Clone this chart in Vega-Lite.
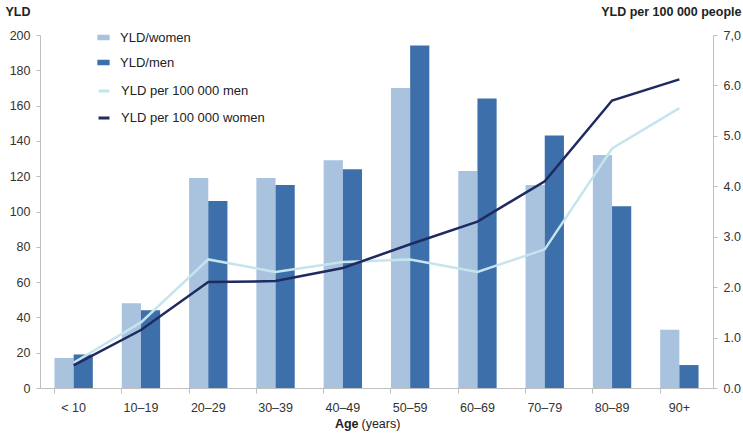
{
  "$schema": "https://vega.github.io/schema/vega-lite/v6.json",
  "autosize": "none",
  "width": 673,
  "height": 353,
  "padding": {"left": 40, "top": 35, "right": 30, "bottom": 53},
  "background": "white",
  "config": {
    "view": {"stroke": null},
    "font": "Liberation Sans",
    "axis": {"labelFont": "Liberation Sans", "titleFont": "Liberation Sans", "labelColor": "#333333", "titleColor": "#222222", "domainColor": "#bfbfbf", "tickColor": "#bfbfbf", "labelFontSize": 12.5, "grid": false, "labelOverlap": false},
    "legend": {"labelFont": "Liberation Sans"}
  },
  "datasets": {
    "bars": [
      {"age": "< 10", "series": "YLD/women", "yld": 17},
      {"age": "< 10", "series": "YLD/men", "yld": 19},
      {"age": "10–19", "series": "YLD/women", "yld": 48},
      {"age": "10–19", "series": "YLD/men", "yld": 44},
      {"age": "20–29", "series": "YLD/women", "yld": 119},
      {"age": "20–29", "series": "YLD/men", "yld": 106},
      {"age": "30–39", "series": "YLD/women", "yld": 119},
      {"age": "30–39", "series": "YLD/men", "yld": 115},
      {"age": "40–49", "series": "YLD/women", "yld": 129},
      {"age": "40–49", "series": "YLD/men", "yld": 124},
      {"age": "50–59", "series": "YLD/women", "yld": 170},
      {"age": "50–59", "series": "YLD/men", "yld": 194},
      {"age": "60–69", "series": "YLD/women", "yld": 123},
      {"age": "60–69", "series": "YLD/men", "yld": 164},
      {"age": "70–79", "series": "YLD/women", "yld": 115},
      {"age": "70–79", "series": "YLD/men", "yld": 143},
      {"age": "80–89", "series": "YLD/women", "yld": 132},
      {"age": "80–89", "series": "YLD/men", "yld": 103},
      {"age": "90+", "series": "YLD/women", "yld": 33},
      {"age": "90+", "series": "YLD/men", "yld": 13}
    ],
    "lines": [
      {"age": "< 10", "series": "YLD per 100 000 men", "rate": 0.50},
      {"age": "10–19", "series": "YLD per 100 000 men", "rate": 1.30},
      {"age": "20–29", "series": "YLD per 100 000 men", "rate": 2.55},
      {"age": "30–39", "series": "YLD per 100 000 men", "rate": 2.30},
      {"age": "40–49", "series": "YLD per 100 000 men", "rate": 2.50},
      {"age": "50–59", "series": "YLD per 100 000 men", "rate": 2.55},
      {"age": "60–69", "series": "YLD per 100 000 men", "rate": 2.30},
      {"age": "70–79", "series": "YLD per 100 000 men", "rate": 2.75},
      {"age": "80–89", "series": "YLD per 100 000 men", "rate": 4.75},
      {"age": "90+", "series": "YLD per 100 000 men", "rate": 5.55},
      {"age": "< 10", "series": "YLD per 100 000 women", "rate": 0.45},
      {"age": "10–19", "series": "YLD per 100 000 women", "rate": 1.15},
      {"age": "20–29", "series": "YLD per 100 000 women", "rate": 2.10},
      {"age": "30–39", "series": "YLD per 100 000 women", "rate": 2.12},
      {"age": "40–49", "series": "YLD per 100 000 women", "rate": 2.38},
      {"age": "50–59", "series": "YLD per 100 000 women", "rate": 2.85},
      {"age": "60–69", "series": "YLD per 100 000 women", "rate": 3.30},
      {"age": "70–79", "series": "YLD per 100 000 women", "rate": 4.10},
      {"age": "80–89", "series": "YLD per 100 000 women", "rate": 5.70},
      {"age": "90+", "series": "YLD per 100 000 women", "rate": 6.12}
    ]
  },
  "layer": [
    {
      "data": {"name": "bars"},
      "mark": {"type": "bar"},
      "encoding": {
        "x": {
          "field": "age", "type": "nominal", "sort": null,
          "scale": {"paddingInner": 0.43, "paddingOuter": 0.215},
          "axis": {"title": "Age", "titleFontWeight": "bold", "titleFontSize": 12.5, "titleAlign": "right", "titleBaseline": "top", "titleX": 318, "titleY": 29, "labelAngle": 0, "labelPadding": 8, "bandPosition": 0, "tickSize": 5}
        },
        "xOffset": {"field": "series", "type": "nominal", "sort": ["YLD/women", "YLD/men"]},
        "y": {
          "field": "yld", "type": "quantitative",
          "scale": {"domain": [0, 200]},
          "axis": {"title": "YLD", "titleAngle": 0, "titleAlign": "left", "titleBaseline": "top", "titleX": -35, "titleY": -30, "titleFontWeight": "bold", "titleFontSize": 12.5, "values": [0,20,40,60,80,100,120,140,160,180,200], "tickSize": 4, "labelPadding": 6}
        },
        "color": {
          "field": "series", "type": "nominal",
          "scale": {"domain": ["YLD/women", "YLD/men"], "range": ["#a9c3df", "#3d70aa"]},
          "legend": {"title": null, "orient": "none", "legendX": 57, "legendY": -4, "symbolType": "M-1,-0.45H1V0.45H-1Z", "symbolSize": 150, "labelFontSize": 13, "labelColor": "#222222", "rowPadding": 11, "labelOffset": 10, "symbolStrokeWidth": 0}
        }
      }
    },
    {
      "data": {"name": "lines"},
      "mark": {"type": "line", "strokeWidth": 2.5},
      "encoding": {
        "x": {
          "field": "age", "type": "nominal", "sort": null,
          "axis": {"orient": "bottom", "title": "(years)", "titleFontWeight": "normal", "titleFontSize": 12.5, "titleAlign": "left", "titleBaseline": "top", "titleX": 321, "titleY": 29, "labels": false, "ticks": false, "domain": false}
        },
        "y": {
          "field": "rate", "type": "quantitative",
          "scale": {"domain": [0, 7]},
          "axis": {"orient": "right", "title": "YLD per 100 000 people", "titleAngle": 0, "titleAlign": "right", "titleBaseline": "top", "titleX": 28, "titleY": -30, "titleFontWeight": "bold", "titleFontSize": 12.5, "values": [0,1,2,3,4,5,6,7], "labelExpr": "datum.value == 7 ? '7,0' : format(datum.value, '.1f')", "tickSize": 4, "labelPadding": 6}
        },
        "color": {
          "field": "series", "type": "nominal",
          "scale": {"domain": ["YLD per 100 000 men", "YLD per 100 000 women"], "range": ["#c5e5ee", "#1f2a60"]},
          "legend": {"title": null, "orient": "none", "legendX": 57, "legendY": 49, "symbolType": "stroke", "symbolSize": 120, "symbolStrokeWidth": 3, "labelFontSize": 13, "labelColor": "#222222", "rowPadding": 13, "labelOffset": 10}
        }
      }
    }
  ],
  "resolve": {"scale": {"y": "independent", "color": "independent"}, "axis": {"x": "independent"}, "legend": {"color": "independent"}}
}
